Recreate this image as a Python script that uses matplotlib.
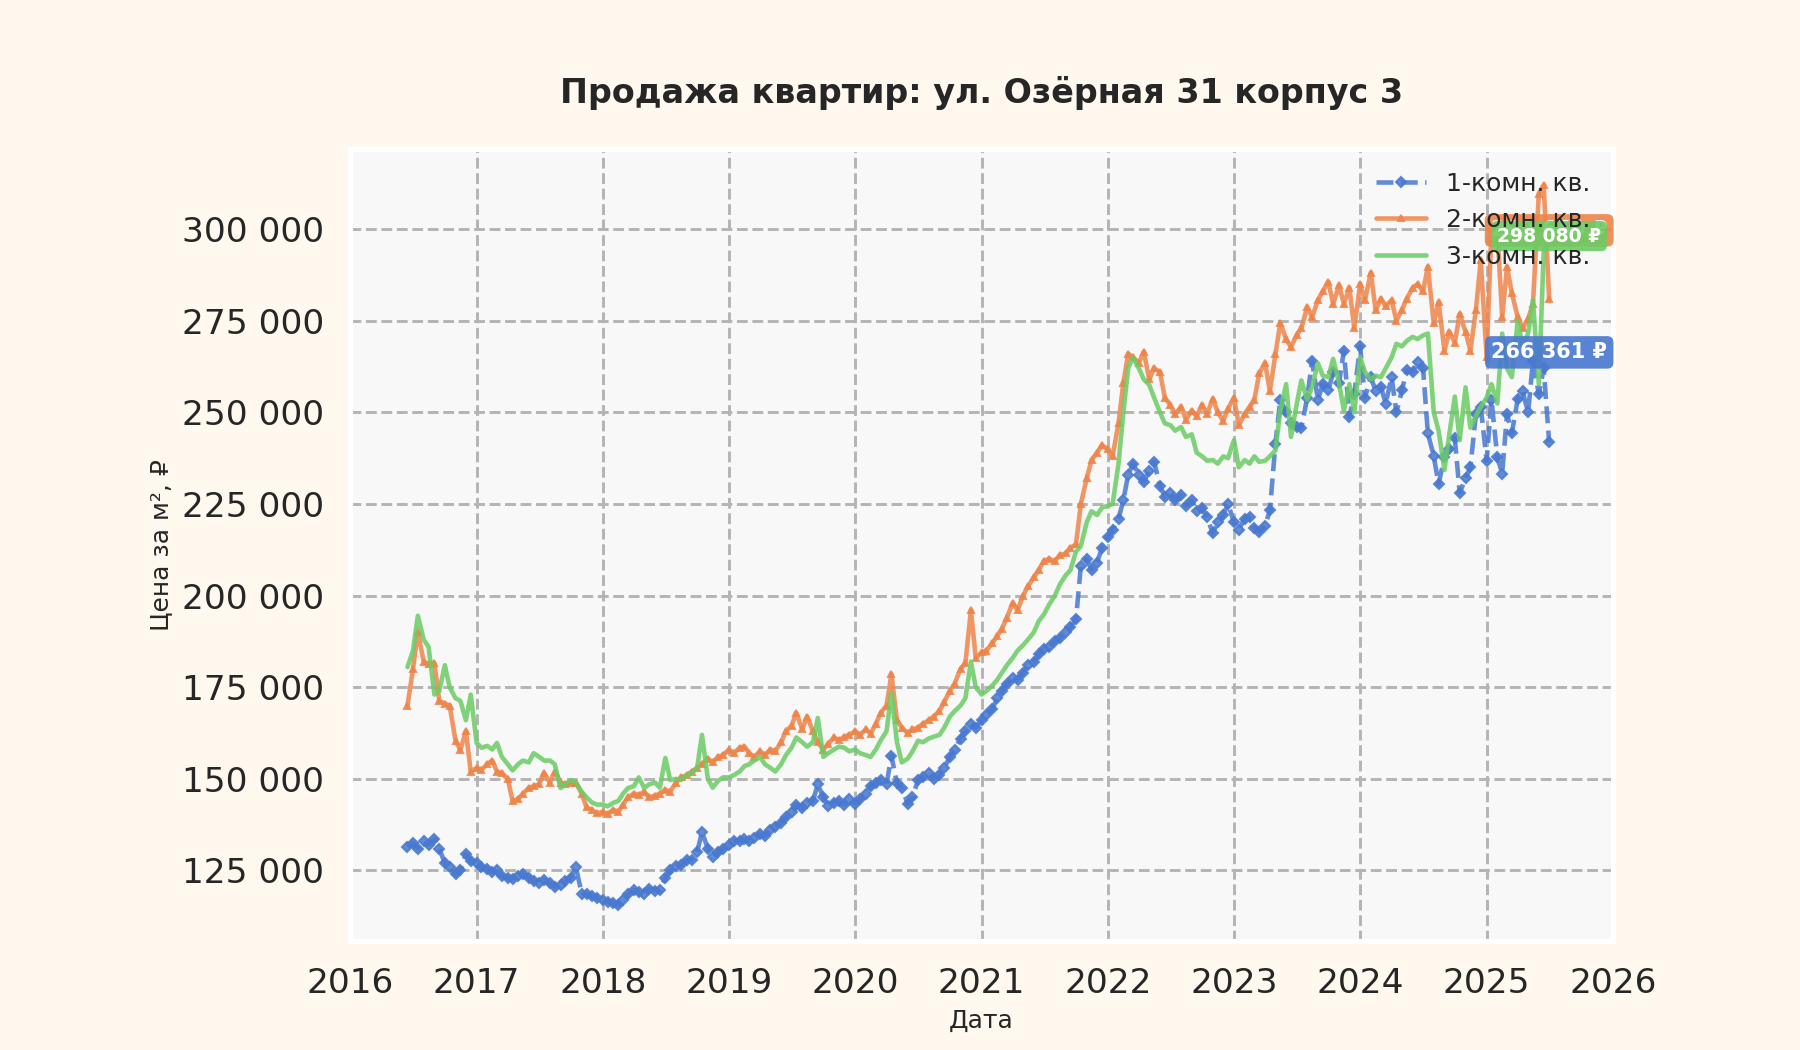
import numpy as np
import pandas as pd
import matplotlib
matplotlib.use("Agg")
import matplotlib.pyplot as plt
import matplotlib.dates as mdates
from matplotlib.ticker import FuncFormatter
import seaborn as sns

# semi-monthly sampling dates (1st and 15th), mid-June 2016 .. July 2025
dates = pd.date_range("2016-06-15", "2025-07-01", freq="SMS")

# price per m2, thousand roubles; one row per year
one_room_k = [
    131.5, 132.5, 131.0, 133.0, 132.0, 133.5, 131.0, 127.0, 126.0, 124.0, 125.0, 129.5, 127.5,
    127.0, 126.0, 125.5, 124.5, 125.0, 123.5, 123.0, 122.8, 123.5, 124.0, 123.0, 122.0,
    121.5, 122.5, 121.5, 120.6, 121.0, 122.0, 123.0, 126.0, 118.7, 118.5, 118.0, 117.5,
    117.0, 116.5, 116.0, 115.5, 117.0, 118.5, 119.7, 119.0, 118.5, 120.0, 119.5, 119.7,
    123.0, 125.0, 126.3, 126.5, 127.8, 128.0, 130.0, 135.5, 131.0, 128.8, 130.0, 131.0,
    132.0, 133.0, 133.0, 133.5, 133.0, 134.0, 135.0, 134.5, 136.0, 137.0, 138.0, 139.5,
    141.0, 143.0, 142.0, 143.5, 144.0, 148.5, 145.0, 142.5, 143.5, 144.0, 143.0, 144.5,
    143.2, 144.5, 146.0, 148.0, 148.8, 149.7, 148.5, 156.3, 148.8, 147.6, 143.2, 145.0,
    149.7, 150.5, 151.6, 150.0, 151.0, 153.0, 156.0, 158.0, 161.0, 163.0, 165.0, 164.0,
    166.0, 167.5, 169.0, 172.0, 174.0, 176.0, 177.5, 177.0, 179.0, 181.0, 182.0, 184.0,
    185.5, 186.0, 187.5, 188.5, 190.0, 191.5, 193.5, 208.0, 210.0, 207.0, 209.0, 213.0,
    216.0, 218.0, 221.0, 226.0, 233.0, 236.0, 233.0, 231.0, 234.0, 236.5, 230.0, 227.0,
    228.0, 226.0, 227.5, 224.5, 226.0, 223.0, 224.0, 221.4, 217.0, 220.0, 222.0, 225.0,
    220.0, 218.0, 221.0, 221.4, 218.5, 217.4, 219.0, 223.3, 241.5, 253.4, 250.0, 247.0,
    246.0, 245.8, 254.0, 264.0, 253.4, 257.7, 256.0, 260.9, 258.0, 266.8, 248.7, 255.0,
    268.0, 254.0, 259.6, 255.8, 257.0, 252.4, 259.6, 250.0, 256.0, 261.5, 261.0, 263.7,
    262.0, 244.3, 238.0, 230.5, 237.7, 240.0, 243.0, 228.0, 232.0, 235.0, 249.6, 251.5,
    236.8, 253.4, 237.7, 233.3, 249.6, 244.3, 253.7, 255.8, 250.0, 264.0, 255.0, 262.0, 241.8,
]
two_room_k = [
    170.0, 180.0, 190.0, 182.0, 181.4, 181.5, 171.3, 170.5, 170.0, 160.4, 157.9, 163.0, 152.0,
    153.0, 152.5, 154.0, 155.0, 152.0, 151.6, 150.0, 144.0, 144.5, 146.0, 147.5, 148.0,
    148.5, 151.6, 149.0, 152.0, 149.0, 148.5, 149.0, 149.0, 146.0, 142.2, 141.5, 140.6,
    141.0, 140.5, 141.5, 141.0, 143.0, 145.0, 146.0, 145.5, 146.5, 145.0, 145.4, 146.0,
    147.0, 146.5, 149.0, 150.4, 151.0, 152.0, 153.0, 154.0, 155.5, 154.5, 156.0, 156.5,
    158.0, 157.0, 158.5, 158.8, 157.0, 156.0, 157.5, 156.5, 158.0, 157.5, 160.0, 163.0,
    164.5, 168.0, 163.5, 167.0, 163.0, 160.0, 158.0, 159.5, 161.3, 160.5, 161.5, 162.0,
    163.0, 162.0, 163.5, 162.3, 165.0, 168.0, 170.0, 178.5, 166.0, 164.0, 162.5, 163.5,
    164.0, 165.0, 166.0, 167.0, 168.5, 171.0, 174.0, 176.0, 180.0, 181.5, 196.0, 183.0,
    184.5, 185.0, 187.0, 189.0, 191.0, 194.0, 198.0, 196.0, 200.0, 202.5, 205.0, 207.0,
    209.5, 210.0, 209.5, 211.0, 211.5, 213.0, 214.0, 225.0, 232.0, 237.0, 239.0, 241.0,
    240.0, 238.0, 247.0, 258.0, 266.0, 265.0, 263.5, 266.5, 259.0, 262.0, 261.0, 254.0,
    252.0, 249.5, 251.5, 248.0, 250.5, 249.0, 252.0, 249.6, 253.7, 250.0, 247.7, 251.0,
    254.0, 246.5, 249.5, 251.5, 253.4, 260.6, 263.4, 255.8, 265.9, 274.3, 270.0, 267.8,
    271.0, 273.0, 278.7, 276.0, 280.6, 283.0, 285.6, 279.6, 284.7, 279.6, 284.0, 273.0,
    285.0, 280.6, 288.1, 277.8, 281.0, 279.0, 280.6, 275.0, 278.0, 281.0, 284.0, 285.0,
    283.0, 289.7, 274.3, 280.0, 266.8, 272.0, 269.0, 276.8, 272.0, 266.8, 278.0, 291.5,
    265.0, 300.0, 299.5, 276.0, 289.7, 282.5, 276.0, 273.0, 275.5, 279.6, 309.7, 312.0, 281.0,
]
three_room_k = [
    180.5, 185.0, 194.5, 188.0, 186.0, 173.0, 174.0, 181.0, 175.0, 172.0, 171.3, 166.0, 173.0,
    159.8, 158.5, 159.0, 158.0, 159.8, 156.0, 154.0, 152.3, 154.0, 155.0, 154.5, 157.0,
    156.0, 155.0, 155.0, 154.0, 147.5, 148.5, 149.7, 149.0, 146.5, 145.0, 143.5, 143.0,
    143.0, 142.5, 143.5, 144.0, 146.0, 147.5, 148.0, 150.4, 147.5, 148.5, 149.0, 147.6,
    155.7, 149.7, 150.0, 149.7, 151.0, 151.5, 153.0, 162.0, 150.0, 147.6, 149.5, 150.4,
    150.4, 151.0, 152.0, 153.5, 154.0, 155.0, 156.0, 154.0, 153.0, 152.0, 154.0, 156.5,
    158.5, 161.3, 160.0, 158.8, 160.0, 166.6, 156.0, 157.0, 158.0, 158.8, 158.5, 157.5,
    158.0, 157.0, 156.5, 156.0, 158.0, 160.5, 163.0, 173.5, 160.0, 154.5, 155.5, 157.5,
    160.4, 160.0, 161.0, 161.5, 162.0, 164.0, 167.0, 168.5, 170.0, 172.0, 182.0, 175.0,
    173.0, 174.0, 175.5, 177.0, 179.0, 181.0, 183.0, 185.0, 186.5, 188.0, 190.0, 193.0,
    195.0, 197.5, 200.0, 203.0, 205.5, 207.0, 212.0, 213.5, 220.0, 223.0, 222.0, 224.0,
    224.5, 225.0, 236.0, 250.0, 262.0, 265.0, 262.0, 259.0, 257.5, 254.0, 250.0, 247.0,
    246.5, 245.0, 246.0, 243.3, 244.0, 239.0, 238.0, 236.8, 237.0, 236.0, 238.0, 237.5,
    242.4, 235.0, 237.0, 236.0, 238.0, 236.5, 236.8, 238.0, 239.6, 250.5, 257.7, 243.3,
    252.0, 258.7, 253.4, 257.0, 263.4, 260.0, 259.6, 264.6, 258.0, 250.5, 257.7, 250.0,
    265.0, 261.0, 259.0, 260.0, 259.6, 262.0, 265.0, 268.7, 268.0, 269.5, 270.6, 270.0,
    271.0, 271.5, 250.0, 245.0, 234.3, 244.0, 254.3, 242.4, 256.8, 245.8, 249.0, 251.5,
    254.0, 257.7, 252.4, 271.5, 262.0, 259.6, 275.0, 268.0, 271.5, 280.6, 257.7, 293.5, 298.0,
]

labels = ["1-комн. кв.", "2-комн. кв.", "3-комн. кв."]
# values shown in the end-of-line badges
badge_values = [266361, 299650, 298080]

sns.set_theme(style="whitegrid", context="talk", palette="muted")
plt.rcParams["font.family"] = ["DejaVu Sans"]

colors = sns.color_palette("muted")
fig = plt.figure(figsize=(12, 7), dpi=150, facecolor="#FFF8EF")
ax = fig.add_axes([0.1945, 0.1035, 0.7015, 0.7545])
ax.set_facecolor("#F8F8F9")

series = [np.array(one_room_k) * 1000, np.array(two_room_k) * 1000, np.array(three_room_k) * 1000]
styles = [dict(linestyle="--", marker="D", markersize=3.5),
          dict(linestyle="-", marker="^", markersize=3),
          dict(linestyle="-", marker=None)]

for vals, lab, col, st in zip(series, labels, colors[:3], styles):
    ax.plot(dates, vals, color=col, linewidth=2.2, alpha=0.85, label=lab, **st)

# end-of-line badges (orange first so the green one sits on top)
badge_size = [10, 10, 9]
for i in [0, 1, 2]:
    txt = f"{badge_values[i]:,} ₽".replace(",", " ")
    ax.text(dates[-1], badge_values[i], txt, ha="center", va="center",
            fontsize=badge_size[i], fontweight="bold", color="white", zorder=5,
            bbox=dict(boxstyle="round,pad=0.3", facecolor=colors[i], edgecolor="none", alpha=0.9))

ax.set_xlim(pd.Timestamp("2016-01-01"), pd.Timestamp("2026-01-01"))
ax.xaxis.set_major_locator(mdates.YearLocator())
ax.xaxis.set_major_formatter(mdates.DateFormatter("%Y"))
ax.yaxis.set_major_formatter(FuncFormatter(lambda v, p: f"{v:,.0f}".replace(",", " ")))

ax.grid(True, linestyle="--", color="#b4b4b4", linewidth=1.4)
for sp in ax.spines.values():
    sp.set_color("white")
    sp.set_linewidth(2.5)

ax.set_title("Продажа квартир: ул. Озёрная 31 корпус 3", fontsize=16, fontweight="bold", pad=22)
ax.set_xlabel("Дата", fontsize=12)
ax.set_ylabel("Цена за м², ₽", fontsize=12)
ax.legend(loc="upper right", fontsize=12, frameon=False)

fig.savefig("out.png", dpi=150, facecolor=fig.get_facecolor())
